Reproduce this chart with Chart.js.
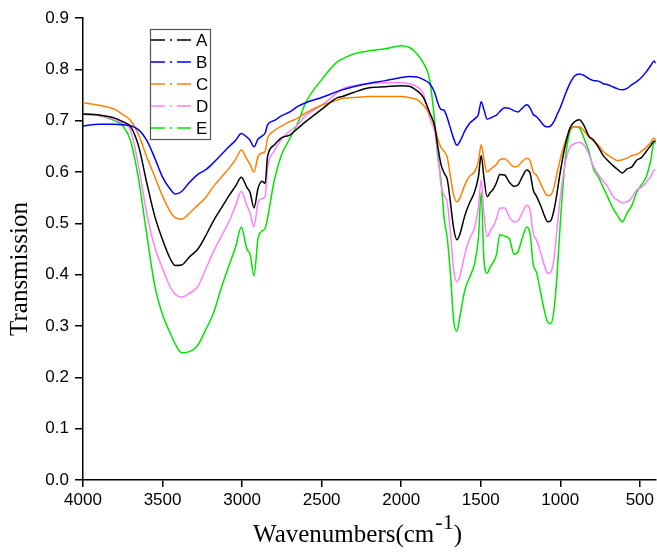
<!DOCTYPE html>
<html>
<head>
<meta charset="utf-8">
<script src="https://cdn.jsdelivr.net/npm/chart.js@4"></script>
<style>
  body { margin: 0; background: #fff; }
  #wrap { width: 657px; height: 553px; position: relative; }
</style>
</head>
<body>
<div id="wrap"><canvas id="ftirChart"></canvas></div>
<script>
// Wavenumbers (cm-1), shared by all spectra
const wavenumbers = [4000, 3900, 3800, 3750, 3700, 3650, 3600, 3550, 3500, 3450, 3420, 3380, 3330, 3280, 3230, 3180, 3130, 3080, 3040, 3005, 2970, 2950, 2925, 2900, 2875, 2855, 2840, 2800, 2750, 2700, 2650, 2600, 2500, 2400, 2370, 2300, 2200, 2100, 2000, 1950, 1900, 1860, 1820, 1790, 1770, 1750, 1730, 1710, 1690, 1670, 1650, 1630, 1600, 1570, 1540, 1515, 1497, 1480, 1460, 1440, 1420, 1400, 1380, 1350, 1320, 1290, 1265, 1240, 1210, 1190, 1170, 1150, 1120, 1100, 1080, 1060, 1040, 1020, 1000, 970, 940, 910, 880, 850, 820, 790, 760, 730, 700, 670, 640, 610, 580, 550, 520, 490, 460, 430, 410, 400];

const seriesA = [0.713, 0.711, 0.705, 0.698, 0.688, 0.650, 0.580, 0.515, 0.468, 0.430, 0.418, 0.419, 0.435, 0.449, 0.475, 0.505, 0.530, 0.555, 0.573, 0.590, 0.570, 0.560, 0.530, 0.568, 0.582, 0.578, 0.630, 0.652, 0.667, 0.672, 0.685, 0.698, 0.722, 0.745, 0.747, 0.755, 0.764, 0.766, 0.768, 0.767, 0.758, 0.745, 0.715, 0.690, 0.650, 0.615, 0.598, 0.585, 0.540, 0.490, 0.468, 0.480, 0.515, 0.540, 0.560, 0.590, 0.632, 0.590, 0.552, 0.560, 0.567, 0.580, 0.595, 0.594, 0.580, 0.572, 0.575, 0.590, 0.604, 0.598, 0.565, 0.553, 0.532, 0.515, 0.503, 0.505, 0.525, 0.560, 0.600, 0.650, 0.685, 0.698, 0.702, 0.690, 0.670, 0.662, 0.648, 0.632, 0.622, 0.613, 0.605, 0.598, 0.606, 0.610, 0.623, 0.628, 0.640, 0.652, 0.660, 0.660];

const seriesB = [0.690, 0.693, 0.693, 0.692, 0.690, 0.682, 0.662, 0.628, 0.590, 0.566, 0.557, 0.562, 0.580, 0.595, 0.604, 0.618, 0.634, 0.650, 0.662, 0.675, 0.668, 0.662, 0.649, 0.664, 0.670, 0.676, 0.692, 0.700, 0.710, 0.717, 0.728, 0.735, 0.745, 0.757, 0.760, 0.766, 0.773, 0.778, 0.784, 0.786, 0.785, 0.780, 0.772, 0.755, 0.735, 0.722, 0.720, 0.705, 0.685, 0.665, 0.652, 0.660, 0.680, 0.695, 0.703, 0.712, 0.737, 0.722, 0.703, 0.705, 0.708, 0.711, 0.718, 0.725, 0.724, 0.719, 0.717, 0.724, 0.731, 0.725, 0.712, 0.708, 0.697, 0.690, 0.688, 0.690, 0.698, 0.712, 0.725, 0.750, 0.772, 0.787, 0.791, 0.788, 0.782, 0.778, 0.777, 0.772, 0.770, 0.766, 0.762, 0.760, 0.763, 0.770, 0.776, 0.784, 0.795, 0.808, 0.816, 0.812];

const seriesC = [0.735, 0.730, 0.722, 0.712, 0.700, 0.672, 0.630, 0.592, 0.553, 0.522, 0.511, 0.508, 0.520, 0.535, 0.550, 0.572, 0.590, 0.608, 0.625, 0.643, 0.625, 0.615, 0.600, 0.630, 0.637, 0.640, 0.665, 0.680, 0.690, 0.698, 0.705, 0.715, 0.730, 0.740, 0.743, 0.745, 0.747, 0.747, 0.747, 0.745, 0.741, 0.730, 0.712, 0.690, 0.665, 0.648, 0.640, 0.628, 0.590, 0.555, 0.542, 0.550, 0.575, 0.592, 0.600, 0.620, 0.653, 0.625, 0.600, 0.605, 0.610, 0.615, 0.624, 0.626, 0.618, 0.610, 0.612, 0.620, 0.627, 0.622, 0.600, 0.594, 0.575, 0.562, 0.554, 0.555, 0.570, 0.598, 0.625, 0.658, 0.680, 0.688, 0.688, 0.680, 0.668, 0.660, 0.652, 0.640, 0.633, 0.627, 0.622, 0.624, 0.627, 0.632, 0.634, 0.640, 0.648, 0.658, 0.666, 0.662];

const seriesD = [0.712, 0.710, 0.702, 0.695, 0.680, 0.610, 0.520, 0.455, 0.412, 0.375, 0.362, 0.356, 0.364, 0.376, 0.410, 0.445, 0.475, 0.505, 0.535, 0.562, 0.535, 0.520, 0.493, 0.540, 0.548, 0.552, 0.608, 0.640, 0.665, 0.680, 0.692, 0.710, 0.730, 0.755, 0.762, 0.768, 0.772, 0.774, 0.774, 0.772, 0.766, 0.752, 0.705, 0.680, 0.640, 0.575, 0.555, 0.540, 0.480, 0.410, 0.386, 0.398, 0.440, 0.470, 0.490, 0.530, 0.585, 0.520, 0.474, 0.485, 0.495, 0.510, 0.530, 0.530, 0.512, 0.503, 0.505, 0.520, 0.535, 0.525, 0.480, 0.468, 0.440, 0.418, 0.403, 0.405, 0.430, 0.490, 0.550, 0.615, 0.648, 0.655, 0.658, 0.652, 0.635, 0.610, 0.595, 0.582, 0.570, 0.553, 0.545, 0.540, 0.542, 0.550, 0.565, 0.570, 0.580, 0.592, 0.604, 0.604];

const seriesE = [0.713, 0.710, 0.700, 0.690, 0.660, 0.585, 0.480, 0.380, 0.322, 0.285, 0.265, 0.248, 0.250, 0.262, 0.292, 0.325, 0.375, 0.420, 0.455, 0.493, 0.450, 0.440, 0.398, 0.470, 0.485, 0.490, 0.510, 0.580, 0.635, 0.665, 0.695, 0.735, 0.780, 0.815, 0.820, 0.830, 0.836, 0.840, 0.846, 0.843, 0.830, 0.812, 0.778, 0.700, 0.630, 0.585, 0.510, 0.470, 0.400, 0.310, 0.290, 0.320, 0.370, 0.395, 0.420, 0.470, 0.560, 0.430, 0.403, 0.415, 0.425, 0.440, 0.478, 0.475, 0.470, 0.440, 0.445, 0.470, 0.493, 0.480, 0.420, 0.405, 0.360, 0.330, 0.308, 0.305, 0.330, 0.400, 0.500, 0.620, 0.678, 0.688, 0.686, 0.665, 0.640, 0.605, 0.590, 0.570, 0.550, 0.530, 0.515, 0.503, 0.520, 0.535, 0.560, 0.575, 0.590, 0.625, 0.660, 0.655];

const seriesNames = ["A", "B", "C", "D", "E"];
const xTicks = [4000, 3500, 3000, 2500, 2000, 1500, 1000, 500];
const yTicks = [0, 0.1, 0.2, 0.3, 0.4, 0.5, 0.6, 0.7, 0.8, 0.9];

const allSeries = [seriesA, seriesB, seriesC, seriesD, seriesE];
const lineColors = ["#000000", "#0000ff", "#ff8000", "#ff80ff", "#00e600"];

const datasets = allSeries.map((values, i) => ({
  label: seriesNames[i],
  data: values.map((v, j) => ({ x: wavenumbers[j], y: v })),
  borderColor: lineColors[i],
  borderWidth: 1.5,
  pointRadius: 0,
  cubicInterpolationMode: "monotone",
  fill: false,
}));

// Legend box with dash-dot samples and axis titles
const decorPlugin = {
  id: "decor",
  afterDraw(chart) {
    const ctx = chart.ctx;
    ctx.save();

    // legend
    ctx.strokeStyle = "#555";
    ctx.lineWidth = 1.2;
    ctx.strokeRect(150.5, 29.5, 60, 110);
    ctx.font = "17px 'Liberation Sans', Arial, sans-serif";
    ctx.textBaseline = "middle";
    ctx.textAlign = "left";
    seriesNames.forEach((name, i) => {
      const y = 40 + i * 22;
      ctx.strokeStyle = lineColors[i];
      ctx.lineWidth = 1.6;
      ctx.setLineDash([14, 5, 2, 5]);
      ctx.beginPath();
      ctx.moveTo(151, y);
      ctx.lineTo(193, y);
      ctx.stroke();
      ctx.setLineDash([]);
      ctx.fillStyle = "#000";
      ctx.fillText(name, 196, y + 1);
    });

    // y title
    ctx.fillStyle = "#000";
    ctx.font = "25px 'Liberation Serif', 'Times New Roman', serif";
    ctx.save();
    ctx.translate(20, 269);
    ctx.rotate(-Math.PI / 2);
    ctx.textAlign = "center";
    ctx.textBaseline = "middle";
    ctx.fillText("Transmission", 0, 0);
    ctx.restore();

    // x title with superscript
    const main = "Wavenumbers(cm";
    const sup = "-1";
    const close = ")";
    const bigFont = "25px 'Liberation Serif', 'Times New Roman', serif";
    const supFont = "22px 'Liberation Serif', 'Times New Roman', serif";
    ctx.textAlign = "left";
    ctx.textBaseline = "alphabetic";
    ctx.font = bigFont;
    const w1 = ctx.measureText(main).width;
    const w3 = ctx.measureText(close).width;
    ctx.font = supFont;
    const w2 = ctx.measureText(sup).width;
    let x0 = 357 - (w1 + w2 + w3) / 2;
    ctx.font = bigFont;
    ctx.fillText(main, x0, 542);
    ctx.font = supFont;
    ctx.fillText(sup, x0 + w1 + 1, 529);
    ctx.font = bigFont;
    ctx.fillText(close, x0 + w1 + w2 + 1, 542);

    ctx.restore();
  },
};

const tickFont = { family: "'Liberation Sans', Arial, sans-serif", size: 17 };

new Chart(document.getElementById("ftirChart"), {
  type: "line",
  data: { datasets: datasets },
  options: {
    responsive: true,
    maintainAspectRatio: false,
    animation: false,
    layout: { padding: { top: 18, right: 0, left: 0, bottom: 0 } },
    plugins: {
      legend: { display: false },
      tooltip: { enabled: false },
    },
    scales: {
      x: {
        type: "linear",
        reverse: true,
        min: 400,
        max: 4000,
        afterBuildTicks(scale) {
          scale.ticks = xTicks.map((v) => ({ value: v }));
        },
        afterFit(scale) {
          scale.height = 73;
        },
        border: { display: true, color: "#000", width: 1.5 },
        grid: { drawOnChartArea: false, drawTicks: true, tickLength: 7, color: "#000", lineWidth: 1.5 },
        ticks: {
          color: "#000",
          font: tickFont,
          padding: 3,
          maxRotation: 0,
          autoSkip: false,
          callback: (v) => String(v),
        },
      },
      y: {
        min: 0,
        max: 0.9,
        afterBuildTicks(scale) {
          scale.ticks = yTicks.map((v) => ({ value: v }));
        },
        afterFit(scale) {
          scale.width = 83;
        },
        border: { display: true, color: "#000", width: 1.5 },
        grid: { drawOnChartArea: false, drawTicks: true, tickLength: 8, color: "#000", lineWidth: 1.5 },
        ticks: {
          color: "#000",
          font: tickFont,
          padding: 6,
          callback: (v) => Number(v).toFixed(1),
        },
      },
    },
  },
  plugins: [decorPlugin],
});
</script>
</body>
</html>
